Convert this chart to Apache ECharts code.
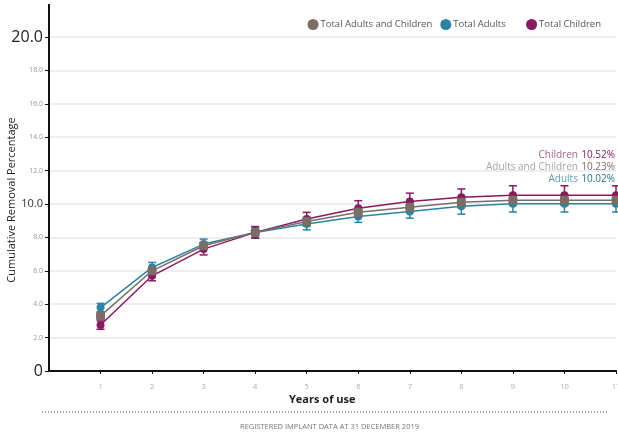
<!DOCTYPE html>
<html><head><meta charset="utf-8">
<script src="https://cdn.jsdelivr.net/npm/echarts@6/dist/echarts.min.js"></script>
<style>html,body{margin:0;padding:0;background:#fff}#c{width:618px;height:436px}</style>
</head><body><div id="c"></div>
<script>
var years = [1,2,3,4,5,6,7,8,9,10,11];
var totalAll = [3.3,6.0,7.5,8.3,8.95,9.5,9.8,10.1,10.23,10.23,10.23];
var totalAllErr = [0.2,0.2,0.2,0.2,0.25,0.25,0.3,0.3,0.3,0.3,0.3];
var adults = [3.8,6.2,7.6,8.3,8.8,9.25,9.55,9.87,10.02,10.02,10.02];
var adultsErr = [0.25,0.3,0.3,0.3,0.35,0.35,0.4,0.48,0.5,0.5,0.5];
var children = [2.75,5.7,7.3,8.3,9.1,9.75,10.15,10.4,10.52,10.52,10.52];
var childrenErr = [0.25,0.3,0.35,0.35,0.4,0.45,0.5,0.5,0.57,0.57,0.57];
var yTicks = [0,2,4,6,8,10,12,14,16,18,20];
var seriesNames = ['Total Adults and Children','Total Adults','Total Children'];
var colors = ['#7b6d66','#2b84a6','#8a1a60'];
var finals = [['Children','10.52%'],['Adults and Children','10.23%'],['Adults','10.02%']];

var FONT = '"Open Sans", "Noto Sans", sans-serif';
function pts(v){ return years.map(function(x,i){ return [x, v[i]]; }); }
function errData(v,e){ return years.map(function(x,i){ return [x, v[i]-e[i], v[i]+e[i]]; }); }
function errSeries(name, v, e, color){
  return {
    type:'custom', name:name, data: errData(v,e), z:3, silent:true,
    renderItem: function(params, api){
      var lo = api.coord([api.value(0), api.value(1)]);
      var hi = api.coord([api.value(0), api.value(2)]);
      var w = 4;
      var st = {stroke: color, lineWidth: 1.5};
      return {type:'group', children:[
        {type:'line', shape:{x1:lo[0],y1:lo[1],x2:hi[0],y2:hi[1]}, style:st},
        {type:'line', shape:{x1:lo[0]-w,y1:lo[1],x2:lo[0]+w,y2:lo[1]}, style:st},
        {type:'line', shape:{x1:hi[0]-w,y1:hi[1],x2:hi[0]+w,y2:hi[1]}, style:st}
      ]};
    }
  };
}
function lineSeries(name, v, color, symbol, size, z){
  return {type:'line', name:name, data:pts(v), symbol:symbol, symbolSize:size, z:z,
    lineStyle:{color:color, width:1.5}, itemStyle:{color:color}, showSymbol:true, animation:false};
}
function note(i, top, lc, vc){
  return {type:'text', right:3, top:top, style:{
    text:'{l|'+finals[i][0]+'} {v|'+finals[i][1]+'}',
    rich:{l:{fontSize:10, fill:lc, fontFamily:FONT}, v:{fontSize:10, fill:vc, fontFamily:FONT}}}};
}

var chart = echarts.init(document.getElementById('c'), null, {renderer:'canvas'});
chart.setOption({
  animation:false,
  textStyle:{fontFamily:FONT},
  color: colors,
  legend:{
    top:14, right:12, itemGap:8, itemWidth:11, itemHeight:11, icon:'circle',
    data: seriesNames,
    formatter:function(n){ return n==='Total Adults' ? n+'     ' : n; },
    textStyle:{fontSize:9.5, color:'#555', fontFamily:FONT, padding:[0,0,0,-3]}
  },
  grid:{left:49, right:2, top:37, bottom:65, containLabel:false, outerBoundsMode:'none'},
  xAxis:{
    type:'value', min:0, max:11, interval:1,
    axisLine:{show:true, lineStyle:{color:'#111', width:2}},
    axisTick:{show:true, length:3, lineStyle:{color:'#111'}},
    splitLine:{show:false},
    axisLabel:{fontSize:7.5, color:'#aaa', margin:12, showMinLabel:false, showMaxLabel:true,
      formatter:function(v){ return v===0?'':String(v); }}
  },
  yAxis:{
    type:'value', min:0, max:20, interval:2,
    axisLine:{show:true, lineStyle:{color:'#111', width:2}},
    axisTick:{show:true, length:4, lineStyle:{color:'#111'}},
    splitLine:{show:true, lineStyle:{color:'#e9e9e9', width:1.5}},
    axisLabel:{
      margin:6,
      formatter:function(v){
        if(v===0) return '{big|0}';
        if(v===20) return '{big|20.0}';
        if(v===10) return '{mid|10.0}';
        return '{sm|'+v.toFixed(1)+'}';
      },
      rich:{
        big:{fontSize:16, color:'#222', fontFamily:FONT},
        mid:{fontSize:11, color:'#333', fontFamily:FONT},
        sm:{fontSize:7, color:'#999', fontFamily:FONT}
      }
    }
  },
  graphic:[
    {type:'line', shape:{x1:49,y1:4,x2:49,y2:38}, style:{stroke:'#111', lineWidth:2}},
    {type:'text', x:12, y:200, rotation:Math.PI/2, style:{text:'Cumulative Removal Percentage', fontSize:11, fill:'#222', fontFamily:FONT, align:'center', verticalAlign:'middle'}},
    {type:'text', left:289, top:394, style:{text:'Years of use', fontSize:11, fontWeight:'bold', fill:'#222', fontFamily:FONT}},
    {type:'line', shape:{x1:42,y1:412,x2:607,y2:412}, style:{stroke:'#333', lineWidth:1, lineDash:[1,2]}},
    {type:'text', left:240, top:423, style:{text:'REGISTERED IMPLANT DATA AT 31 DECEMBER 2019', fontSize:7.5, fill:'#777', fontFamily:FONT}},
    note(0, 149, '#a0658a', '#8a1a60'),
    note(1, 161, '#aaa39e', '#7b6d66'),
    note(2, 173, '#5f9fb9', '#1f6f8e')
  ],
  series:[
    lineSeries(seriesNames[0], totalAll, colors[0], 'roundRect', 9, 6),
    lineSeries(seriesNames[1], adults, colors[1], 'circle', 8, 4),
    lineSeries(seriesNames[2], children, colors[2], 'circle', 8, 5),
    errSeries(seriesNames[1], adults, adultsErr, colors[1]),
    errSeries(seriesNames[2], children, childrenErr, colors[2]),
    errSeries(seriesNames[0], totalAll, totalAllErr, colors[0])
  ]
});
</script></body></html>
